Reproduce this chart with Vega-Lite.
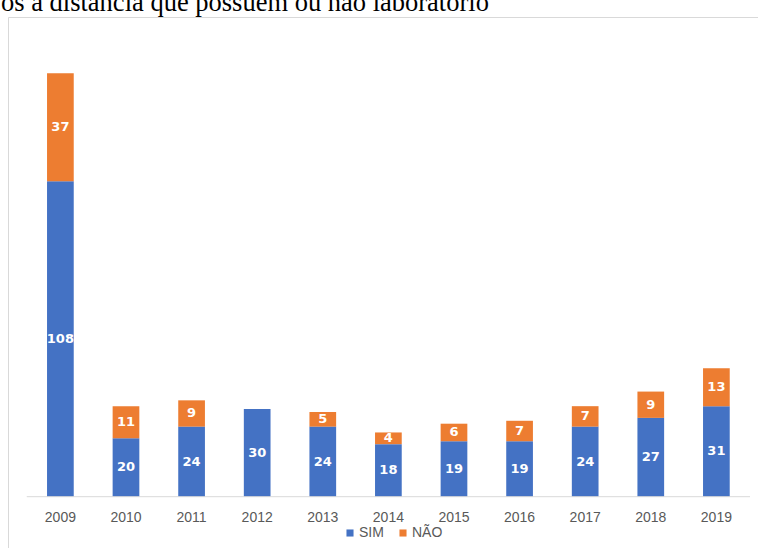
{
  "$schema": "https://vega.github.io/schema/vega-lite/v6.json",
  "autosize": {"type": "none"},
  "padding": {"left": 8, "top": 17, "right": 0, "bottom": 0},
  "width": 750,
  "height": 531,
  "background": "white",
  "title": {
    "text": "os a distância que possuem ou não laboratório",
    "anchor": "start",
    "frame": "group",
    "font": "Liberation Serif",
    "fontSize": 26.5,
    "fontWeight": "normal",
    "color": "#000000",
    "baseline": "alphabetic",
    "offset": 6,
    "dx": -7,
    "dy": 26
  },
  "config": {
    "view": {"stroke": "#d9d9d9", "strokeWidth": 1}
  },
  "data": {
    "values": [
      {"ano": "2009", "tipo": "SIM", "valor": 108},
      {"ano": "2009", "tipo": "NÃO", "valor": 37},
      {"ano": "2010", "tipo": "SIM", "valor": 20},
      {"ano": "2010", "tipo": "NÃO", "valor": 11},
      {"ano": "2011", "tipo": "SIM", "valor": 24},
      {"ano": "2011", "tipo": "NÃO", "valor": 9},
      {"ano": "2012", "tipo": "SIM", "valor": 30},
      {"ano": "2013", "tipo": "SIM", "valor": 24},
      {"ano": "2013", "tipo": "NÃO", "valor": 5},
      {"ano": "2014", "tipo": "SIM", "valor": 18},
      {"ano": "2014", "tipo": "NÃO", "valor": 4},
      {"ano": "2015", "tipo": "SIM", "valor": 19},
      {"ano": "2015", "tipo": "NÃO", "valor": 6},
      {"ano": "2016", "tipo": "SIM", "valor": 19},
      {"ano": "2016", "tipo": "NÃO", "valor": 7},
      {"ano": "2017", "tipo": "SIM", "valor": 24},
      {"ano": "2017", "tipo": "NÃO", "valor": 7},
      {"ano": "2018", "tipo": "SIM", "valor": 27},
      {"ano": "2018", "tipo": "NÃO", "valor": 9},
      {"ano": "2019", "tipo": "SIM", "valor": 31},
      {"ano": "2019", "tipo": "NÃO", "valor": 13}
    ]
  },
  "encoding": {
    "x": {
      "field": "ano",
      "type": "nominal",
      "sort": null,
      "scale": {"paddingInner": 0.593, "paddingOuter": 0.513, "align": 0.58},
      "axis": {
        "title": null,
        "orient": "bottom",
        "offset": -51.3,
        "domain": false,
        "ticks": false,
        "labelAngle": 0,
        "labelPadding": 14,
        "labelFont": "Liberation Sans",
        "labelFontSize": 14,
        "labelColor": "#595959"
      }
    }
  },
  "layer": [
    {
      "mark": {"type": "bar"},
      "encoding": {
        "y": {
          "field": "valor",
          "type": "quantitative",
          "stack": "zero",
          "scale": {"domain": [-17.57, 164.28], "nice": false, "zero": false},
          "axis": null
        },
        "order": {"field": "tipo", "sort": "descending"},
        "color": {
          "field": "tipo",
          "type": "nominal",
          "scale": {"domain": ["SIM", "NÃO"], "range": ["#4472C4", "#ED7D31"]},
          "legend": {
            "title": null,
            "orient": "none",
            "direction": "horizontal",
            "legendX": 335,
            "legendY": 509,
            "symbolType": "square",
            "symbolSize": 50,
            "symbolStrokeWidth": 0,
            "labelFont": "Liberation Sans",
            "labelFontSize": 14,
            "labelColor": "#595959",
            "labelOffset": 2,
            "columnPadding": 12
          }
        }
      }
    },
    {
      "mark": {"type": "text", "color": "white", "font": "DejaVu Sans", "fontSize": 13, "fontWeight": "bold", "baseline": "middle", "align": "center"},
      "encoding": {
        "y": {"field": "valor", "type": "quantitative", "stack": "zero", "bandPosition": 0.5},
        "order": {"field": "tipo", "sort": "descending"},
        "detail": {"field": "tipo", "type": "nominal"},
        "text": {"field": "valor", "type": "quantitative"}
      }
    },
    {
      "data": {"values": [{}]},
      "mark": {"type": "rule", "color": "#d9d9d9", "strokeWidth": 1},
      "encoding": {
        "y": {"datum": 0, "type": "quantitative"},
        "x": {"datum": "2009", "bandPosition": -0.76},
        "x2": {"datum": "2019", "bandPosition": 1.76}
      }
    }
  ]
}
